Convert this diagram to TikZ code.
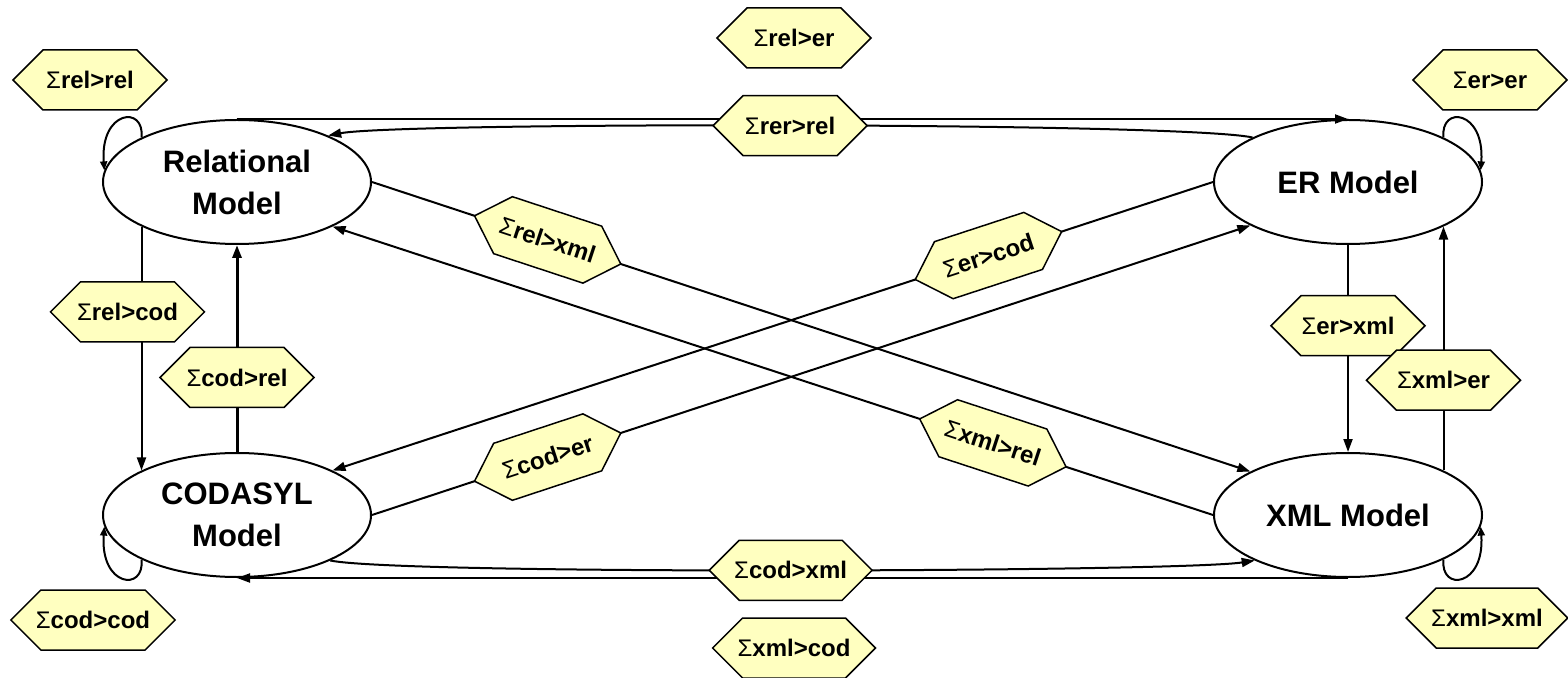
\documentclass[tikz,border=0pt]{standalone}
\usepackage{fontspec}
\setmainfont{Liberation Sans}
\usetikzlibrary{arrows.meta,shapes.geometric,shapes.symbols}
\definecolor{hexyellow}{RGB}{255,255,192}
\newcommand{\sig}{{\mdseries Σ}}

\begin{document}
\begin{tikzpicture}[x=0.5pt,y=-0.5pt,>={Triangle[length=6.5pt,width=4.5pt]},
  model/.style={draw,line width=1pt,ellipse,fill=white,minimum width=134pt,
    minimum height=62pt,inner sep=0pt,align=center,
    font=\fontsize{15.5}{21}\selectfont\bfseries},
  hexa/.style={draw,line width=0.75pt,fill=hexyellow,shape=signal,
    signal to=west and east,signal pointer angle=90,minimum height=30pt,
    minimum width=77pt,inner xsep=-2.5pt,inner ysep=0pt,
    font=\fontsize{12}{14}\selectfont\bfseries},
  link/.style={line width=1pt,->},
  selfloop/.style={line width=1pt,-{Triangle[length=4.5pt,width=3.5pt]}}]
  \useasboundingbox (0,0) rectangle (1568,678);
  % the four models
  \node[model] (rel) at (237,182) {Relational\\Model};
  \node[model] (er) at (1348,182) {ER Model};
  \node[model] (cod) at (237,515) {CODASYL\\Model};
  \node[model] (xml) at (1348,515) {XML Model};
  % top pair
  \draw[link] (rel.north) -- (er.north);
  \draw[link] (er.155) .. controls (1180,122) and (400,122) .. (rel.27)
    node[hexa,pos=0.5] (rer2rel) {\sig rer>rel};
  \node[hexa] (rel2er) at (794,38) {\sig rel>er};
  % bottom pair
  \draw[link] (xml.south) -- (cod.south);
  \draw[link] (cod.-26) .. controls (400,575) and (1180,572) .. (xml.206)
    node[hexa,pos=0.5] (cod2xml) {\sig cod>xml};
  \node[hexa] (xml2cod) at (794,648) {\sig xml>cod};
  % left side
  \draw[link] (rel.205) -- (cod.155) node[hexa,pos=0.35,xshift=-7pt] (rel2cod) {\sig rel>cod};
  \draw[link,line width=1.5pt] (cod.north) -- (rel.south) node[hexa,pos=0.36] (cod2rel) {\sig cod>rel};
  % right side
  \draw[link] (er.south) -- (xml.north) node[hexa,pos=0.39] (er2xml) {\sig er>xml};
  \draw[link] (xml.25) -- (er.-25) node[hexa,pos=0.37] (xml2er) {\sig xml>er};
  % diagonals
  \draw[link] (rel.east) -- (xml.156) node[hexa,sloped,pos=0.2] (rel2xml) {\sig rel>xml};
  \draw[link] (xml.west) -- (rel.-25) node[hexa,sloped,pos=0.25] (xml2rel) {\sig xml>rel};
  \draw[link] (er.west) -- (cod.25) node[hexa,sloped,pos=0.255] (er2cod) {\sig er>cod};
  \draw[link] (cod.east) -- (er.204) node[hexa,sloped,pos=0.2] (cod2er) {\sig cod>er};
  % self loops
  \draw[selfloop] (rel.155) .. controls (145,105) and (100,110) .. (rel.175);
  \draw[selfloop] (er.25) .. controls (1440,105) and (1485,110) .. (er.5);
  \draw[selfloop] (cod.205) .. controls (145,592) and (100,587) .. (cod.185);
  \draw[selfloop] (xml.-25) .. controls (1440,592) and (1485,587) .. (xml.-5);
  \node[hexa] (rel2rel) at (90,80) {\sig rel>rel};
  \node[hexa] (er2er) at (1490,80) {\sig er>er};
  \node[hexa] (cod2cod) at (93,620) {\sig cod>cod};
  \node[hexa] (xml2xml) at (1487,618) {\sig xml>xml};
\end{tikzpicture}
\end{document}
